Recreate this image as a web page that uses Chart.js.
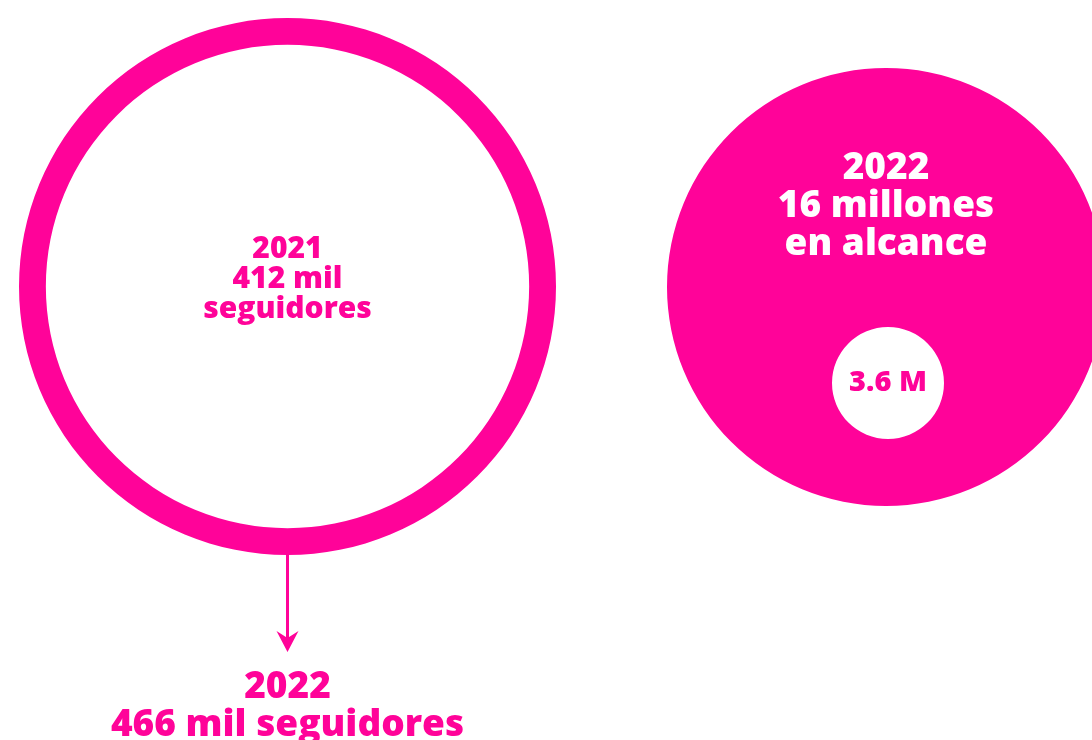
<!DOCTYPE html>
<html>
<head>
<meta charset="utf-8">
<script src="https://cdn.jsdelivr.net/npm/chart.js@4"></script>
<style>
  html, body { margin: 0; padding: 0; background: #fff; overflow: hidden; width: 1092px; height: 740px; }
  .box { position: absolute; }
</style>
</head>
<body>
<div class="box" style="left:0;top:0"><canvas id="followersChart" width="574" height="740"></canvas></div>
<div class="box" style="left:667px;top:68px"><canvas id="reachChart" width="438" height="438"></canvas></div>
<div class="box" style="left:832px;top:327px"><canvas id="reachSmallChart" width="112" height="112"></canvas></div>
<script>
// data
const years = ['2021', '2022'];
const followers = [412, 466];          // mil seguidores
const followerLabels = ['412 mil', '466 mil seguidores'];
const reach = [16, 3.6];               // millones
const reachLabels = ['16 millones', 'en alcance', '3.6 M'];

const PINK = '#ff0399';
const FONT = '"Open Sans", "Noto Sans", sans-serif';

// draws text lines centered on the arc
const centerText = {
    id: 'centerText',
    afterDraw(chart, args, opts) {
        const arc = chart.getDatasetMeta(0).data[0];
        const ctx = chart.ctx;
        ctx.save();
        ctx.fillStyle = opts.color;
        ctx.textAlign = 'center';
        ctx.textBaseline = 'middle';
        ctx.font = '800 ' + opts.size + 'px ' + FONT;
        const start = arc.y + opts.offset - (opts.lines.length - 1) * opts.lineHeight / 2;
        opts.lines.forEach((l, i) => ctx.fillText(l, arc.x, start + i * opts.lineHeight));
        ctx.restore();
    }
};

// arrow from the ring down to the 2022 text
const arrowDown = {
    id: 'arrowDown',
    afterDraw(chart, args, opts) {
        const arc = chart.getDatasetMeta(0).data[0];
        const ctx = chart.ctx;
        const y0 = arc.y + arc.outerRadius;
        const y1 = y0 + 97;
        ctx.save();
        ctx.strokeStyle = PINK;
        ctx.fillStyle = PINK;
        ctx.lineWidth = 3;
        ctx.beginPath();
        ctx.moveTo(arc.x, y0);
        ctx.lineTo(arc.x, y1 - 6);
        ctx.stroke();
        ctx.beginPath();
        ctx.moveTo(arc.x, y1);
        ctx.lineTo(arc.x - 11, y1 - 21);
        ctx.lineTo(arc.x, y1 - 14);
        ctx.lineTo(arc.x + 11, y1 - 21);
        ctx.closePath();
        ctx.fill();
        ctx.font = '800 37px ' + FONT;
        ctx.textAlign = 'center';
        ctx.textBaseline = 'middle';
        ctx.fillText(years[1], arc.x, y1 + 35);
        ctx.fillText(followerLabels[1], arc.x, y1 + 73);
        ctx.restore();
    }
};

const baseOptions = {
    responsive: false,
    animation: false,
    events: [],
    plugins: { legend: { display: false }, tooltip: { enabled: false } }
};

new Chart(document.getElementById('followersChart'), {
    type: 'doughnut',
    data: {
        labels: [years[0]],
        datasets: [{ data: [followers[0]], backgroundColor: PINK, borderWidth: 0 }]
    },
    options: {
        ...baseOptions,
        cutout: '90%',
        layout: { padding: { top: 18, left: 18, right: 17, bottom: 185 } },
        plugins: {
            ...baseOptions.plugins,
            centerText: { color: PINK, size: 30, lineHeight: 30, offset: -7, lines: [years[0], followerLabels[0], 'seguidores'] }
        }
    },
    plugins: [centerText, arrowDown]
});

new Chart(document.getElementById('reachChart'), {
    type: 'pie',
    data: {
        labels: [years[1]],
        datasets: [{ data: [reach[0]], backgroundColor: PINK, borderWidth: 0 }]
    },
    options: {
        ...baseOptions,
        plugins: {
            ...baseOptions.plugins,
            centerText: { color: '#fff', size: 37, lineHeight: 38, offset: -81, lines: [years[1], reachLabels[0], reachLabels[1]] }
        }
    },
    plugins: [centerText]
});

new Chart(document.getElementById('reachSmallChart'), {
    type: 'pie',
    data: {
        labels: ['alcance'],
        datasets: [{ data: [reach[1]], backgroundColor: '#fff', borderWidth: 0 }]
    },
    options: {
        ...baseOptions,
        plugins: {
            ...baseOptions.plugins,
            centerText: { color: PINK, size: 29, lineHeight: 29, offset: 0, lines: [reachLabels[2]] }
        }
    },
    plugins: [centerText]
});
</script>
</body>
</html>
